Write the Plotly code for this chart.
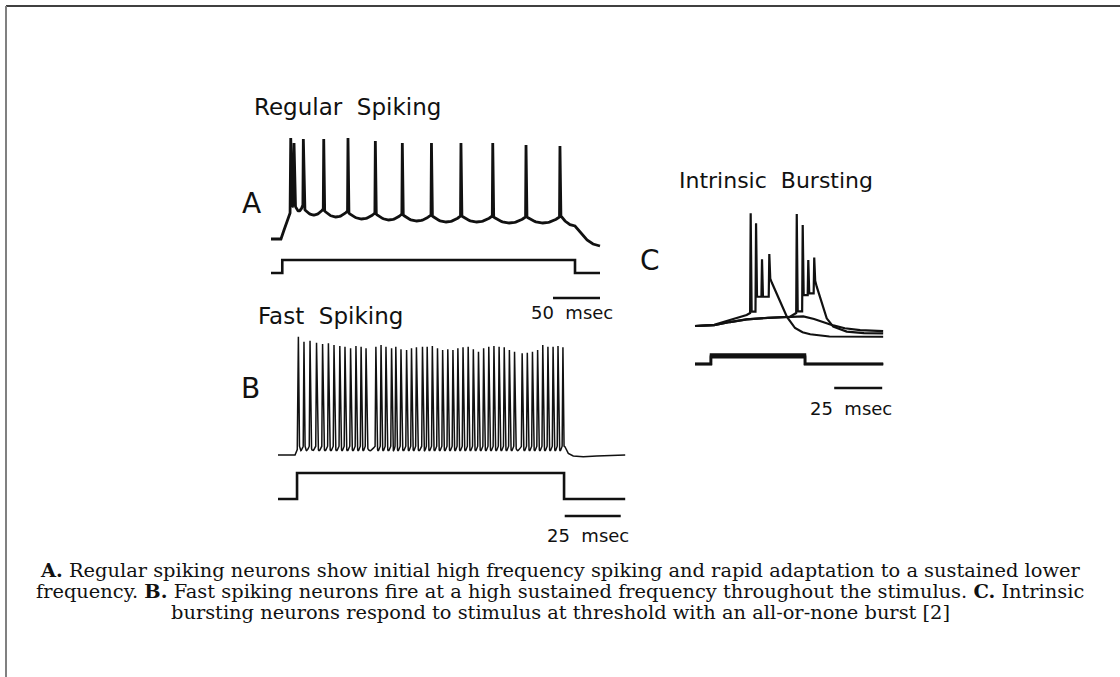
import numpy as np
import plotly.graph_objects as go

W, H = 1120, 677

# ---------------- data (time in ms, voltage in mV, current in nA) ----------------
# A. Regular spiking
A_spike_t = [21.0, 24.5, 34.4, 56.1, 81.9, 111.0, 139.7, 170.7, 202.1, 235.9, 271.3, 307.4]
A_spike_peak = [31, 26, 30, 30, 31, 28, 26, 26, 26, 26, 24, 23]
A_trough = [-39, -44, -48, -50, -52, -53, -54, -55, -55, -56, -56, -55]
A_pre_t = [0, 10.6, 13.5, 17.0, 20.3]
A_pre_v = [-70, -70, -62, -52, -44]
A_post_t = [312.8, 318.1, 323.4, 328.7, 336.2, 342.6, 350.0]
A_post_v = [-52, -55.7, -57, -63, -71, -75, -77]
A_stim_t = [0, 12.0, 12.0, 323.4, 323.4, 350.0]
A_stim_i = [0, 0, 0.5, 0.5, 0, 0]
A_bar = [300, 350]          # 50 msec

# B. Fast spiking
B_spike_t = [9.1, 11.6, 14.3, 17.2, 19.9, 22.5, 25.0, 27.6, 29.9, 32.4, 34.8, 37.1, 39.3,
             43.7, 46.0, 48.2, 50.7, 52.6, 54.9, 57.4, 59.6, 61.8, 64.5, 66.6, 68.9, 71.2,
             73.5, 75.8, 78.1, 80.3, 82.6, 84.9, 87.2, 89.5, 91.8, 94.1, 96.4, 98.7, 101.0,
             103.3, 105.6, 109.0, 111.3, 113.6, 115.9, 118.2, 120.5, 122.8, 125.0, 127.2]
B_spike_peak = [37.5, 33.0, 33.9, 32.1, 30.9, 31.5, 30.0, 29.1, 28.5, 27.0, 29.1, 28.5, 27.0,
                28.5, 30.0, 28.5, 27.0, 28.5, 26.1, 25.5, 27.0, 27.9, 28.5, 28.5, 29.1, 27.0,
                25.5, 26.1, 25.5, 27.0, 27.9, 28.5, 26.1, 23.9, 27.0, 28.5, 29.1, 28.5, 27.9,
                25.5, 23.9, 22.5, 23.0, 23.9, 25.5, 30.0, 28.5, 28.5, 29.1, 27.9]
B_trough = -68
B_pre_t = [0, 7.6, 8.6]
B_pre_v = [-70, -70, -65]
B_post_t = [128.1, 129.6, 131.8, 136.3, 142.3, 149.6, 155.0]
B_post_v = [-62.5, -68.5, -70.9, -71.5, -70.9, -70.0, -70.0]
B_stim_t = [0, 8.5, 8.5, 127.7, 127.7, 155.0]
B_stim_i = [0, 0, 1.0, 1.0, 0, 0]
B_bar = [128, 153]          # 25 msec

# C. Intrinsic bursting: two suprathreshold sweeps and one subthreshold sweep
C1_pre_t = [0, 10, 18.2, 26.9, 28.7]
C1_pre_v = [-70, -69, -64.7, -60.3, -58.5]
C1_spike_t = [29.0, 31.8, 34.9, 38.7]
C1_spike_peak = [29.7, 20.9, -11.0, -6.3]
C1_trough = [-57.3, -44.1, -44.1, -28]
C1_post_t = [40.1, 44.0, 47.9, 52.1, 56.0, 60.0, 70.0, 98.0]
C1_post_v = [-32, -47, -62, -71.8, -75.5, -77.3, -79.3, -79.5]

C2_pre_t = [0, 10, 18.2, 26.9, 38, 49.5, 52.7]
C2_pre_v = [-70, -69.3, -66.5, -64.1, -62.8, -61.8, -58.5]
C2_spike_t = [53.0, 56.1, 59.0, 62.1]
C2_spike_peak = [29.1, 19.4, -11.6, -9.5]
C2_trough = [-57, -42.6, -41.1, -30]
C2_post_t = [63.4, 66.0, 68.6, 72.0, 79.0, 88.0, 98.0]
C2_post_v = [-35.2, -50, -63.2, -70.6, -75, -76.3, -76.6]

C3_t = [0, 10, 18.2, 26.9, 38, 49.5, 56.4, 62, 68.6, 72, 78, 86, 98]
C3_v = [-70, -69.3, -66.5, -64.1, -62.8, -61.8, -61.5, -63.8, -67.5, -69.5, -72, -73.7, -74.5]

C_stim_amp = [0.22, 0.27, 0.32]
C_stim_on, C_stim_off, C_end = 8.3, 57.3, 98.0
C_bar = [72.5, 97.5]        # 25 msec


# ---------------- helpers ----------------
def spike_train(pre_t, pre_v, times, peaks, troughs, post_t, post_v,
                rise, fall, foot, p_down, p_up, n):
    """Polyline of a spiking voltage record built from spike times/peaks."""
    troughs = np.broadcast_to(np.asarray(troughs, dtype=float), (len(times),))
    t, v = list(pre_t), list(pre_v)
    for i, (ts, pk) in enumerate(zip(times, peaks)):
        s = troughs[i] + foot
        t += [ts, ts + fall]
        v += [pk, s]
        if i + 1 < len(times):
            a, b = ts + fall, times[i + 1] - rise
            u = np.linspace(0, 1, n)[1:]
            tr = troughs[i]
            vv = tr + (s - tr) * (1 - u) ** p_down + (s - tr) * u ** p_up
            t += list(a + (b - a) * u)
            v += list(vv)
    t += list(post_t)
    v += list(post_v)
    return t, v


def xrange_for(x0_px, px_per_unit):
    return [-x0_px / px_per_unit, (W - x0_px) / px_per_unit]


def yrange_for(y0_px, v0, px_per_unit):
    return [v0 - (H - y0_px) / px_per_unit, v0 + y0_px / px_per_unit]


def px(xp):
    return xp / W


def py(yp):
    return 1 - yp / H


INK = "#111111"
fig = go.Figure()

# axis pairs: (x origin px, px/ms, y origin px, y origin value, px/unit)
axes = {
    1: (271, 0.94, 239, -70, 1.0),    # A voltage
    2: (271, 0.94, 273, 0, 26.0),     # A current
    3: (278, 2.24, 455, -70, 1.1),    # B voltage
    4: (278, 2.24, 499, 0, 26.0),     # B current
    5: (695, 1.92, 326, -70, 1.13),   # C voltage
    6: (695, 1.92, 364, 0, 30.0),     # C current
}
layout_axes = {}
for k, (x0, sx, y0, v0, sy) in axes.items():
    sfx = "" if k == 1 else str(k)
    layout_axes["xaxis" + sfx] = dict(domain=[0, 1], range=xrange_for(x0, sx), visible=False,
                                      fixedrange=True, anchor="y" + sfx)
    layout_axes["yaxis" + sfx] = dict(domain=[0, 1], range=yrange_for(y0, v0, sy), visible=False,
                                      fixedrange=True, anchor="x" + sfx)


def add_line(t, v, k, width):
    sfx = "" if k == 1 else str(k)
    fig.add_trace(go.Scatter(x=t, y=v, mode="lines", xaxis="x" + sfx, yaxis="y" + sfx,
                             line=dict(color=INK, width=width), hoverinfo="skip",
                             showlegend=False))


# A
tA, vA = spike_train(A_pre_t, A_pre_v, A_spike_t, A_spike_peak, A_trough, A_post_t, A_post_v,
                     rise=0.5, fall=1.0, foot=8, p_down=3, p_up=3, n=30)
add_line(tA, vA, 1, 2.8)
add_line(A_stim_t, A_stim_i, 2, 2.6)

# B
tB, vB = spike_train(B_pre_t, B_pre_v, B_spike_t, B_spike_peak, B_trough, B_post_t, B_post_v,
                     rise=0.35, fall=0.5, foot=6, p_down=5, p_up=1.5, n=12)
add_line(tB, vB, 3, 1.5)
add_line(B_stim_t, B_stim_i, 4, 2.6)

# C
t1, v1 = spike_train(C1_pre_t, C1_pre_v, C1_spike_t, C1_spike_peak, C1_trough, C1_post_t,
                     C1_post_v, rise=0.3, fall=0.5, foot=0, p_down=1, p_up=1, n=4)
t2, v2 = spike_train(C2_pre_t, C2_pre_v, C2_spike_t, C2_spike_peak, C2_trough, C2_post_t,
                     C2_post_v, rise=0.3, fall=0.5, foot=0, p_down=1, p_up=1, n=4)
add_line(t1, v1, 5, 2.2)
add_line(t2, v2, 5, 2.2)
add_line(C3_t, C3_v, 5, 2.2)
for amp in C_stim_amp:
    add_line([0, C_stim_on, C_stim_on, C_stim_off, C_stim_off, C_end],
             [0, 0, amp, amp, 0, 0], 6, 2.4)

# scale bars (length in ms along each panel's time axis)
shapes = []
for xref, bar, ybar in (("x2", A_bar, 298), ("x4", B_bar, 516), ("x6", C_bar, 388)):
    shapes.append(dict(type="line", xref=xref, yref="paper", x0=bar[0], x1=bar[1],
                       y0=py(ybar), y1=py(ybar), line=dict(color=INK, width=2.6)))

# frame
shapes.append(dict(type="line", xref="paper", yref="paper", x0=px(6), x1=1, y0=py(6), y1=py(6),
                   line=dict(color="#000000", width=1.5)))
shapes.append(dict(type="line", xref="paper", yref="paper", x0=px(6), x1=px(6), y0=py(6), y1=0,
                   line=dict(color="#808080", width=2)))

SANS = "DejaVu Sans"
SP = "\u00a0 "
ann = []


def label(text, xp, yp, size, xanchor="left", family=SANS):
    ann.append(dict(text=text, x=px(xp), y=py(yp), xref="paper", yref="paper",
                    xanchor=xanchor, yanchor="middle", showarrow=False,
                    font=dict(family=family, size=size, color=INK)))


label("Regular" + SP + "Spiking", 252, 106.5, 23)
label("Fast" + SP + "Spiking", 256, 316, 23)
label("Intrinsic" + SP + "Bursting", 677, 180.5, 22)
label("A", 251, 203, 28, "center")
label("B", 250, 388, 28, "center")
label("C", 650, 260, 28, "center")
label("50" + SP + "msec", 572, 312, 18, "center")
label("25" + SP + "msec", 588, 535, 18, "center")
label("25" + SP + "msec", 851, 408, 18, "center")

SERIF = "DejaVu Serif"
caption = [
    "<b>A.</b> Regular spiking neurons show initial high frequency spiking and rapid adaptation to a sustained lower",
    "frequency. <b>B.</b> Fast spiking neurons fire at a high sustained frequency throughout the stimulus. <b>C.</b> Intrinsic",
    "bursting neurons respond to stimulus at threshold with an all-or-none burst [2]",
]
for line, yc in zip(caption, [570, 591, 612]):
    label(line, 560, yc, 19.4, "center", SERIF)

fig.update_layout(width=W, height=H, margin=dict(l=0, r=0, t=0, b=0),
                  paper_bgcolor="white", plot_bgcolor="rgba(0,0,0,0)",
                  showlegend=False, shapes=shapes, annotations=ann, **layout_axes)

fig.write_html("out.html")
